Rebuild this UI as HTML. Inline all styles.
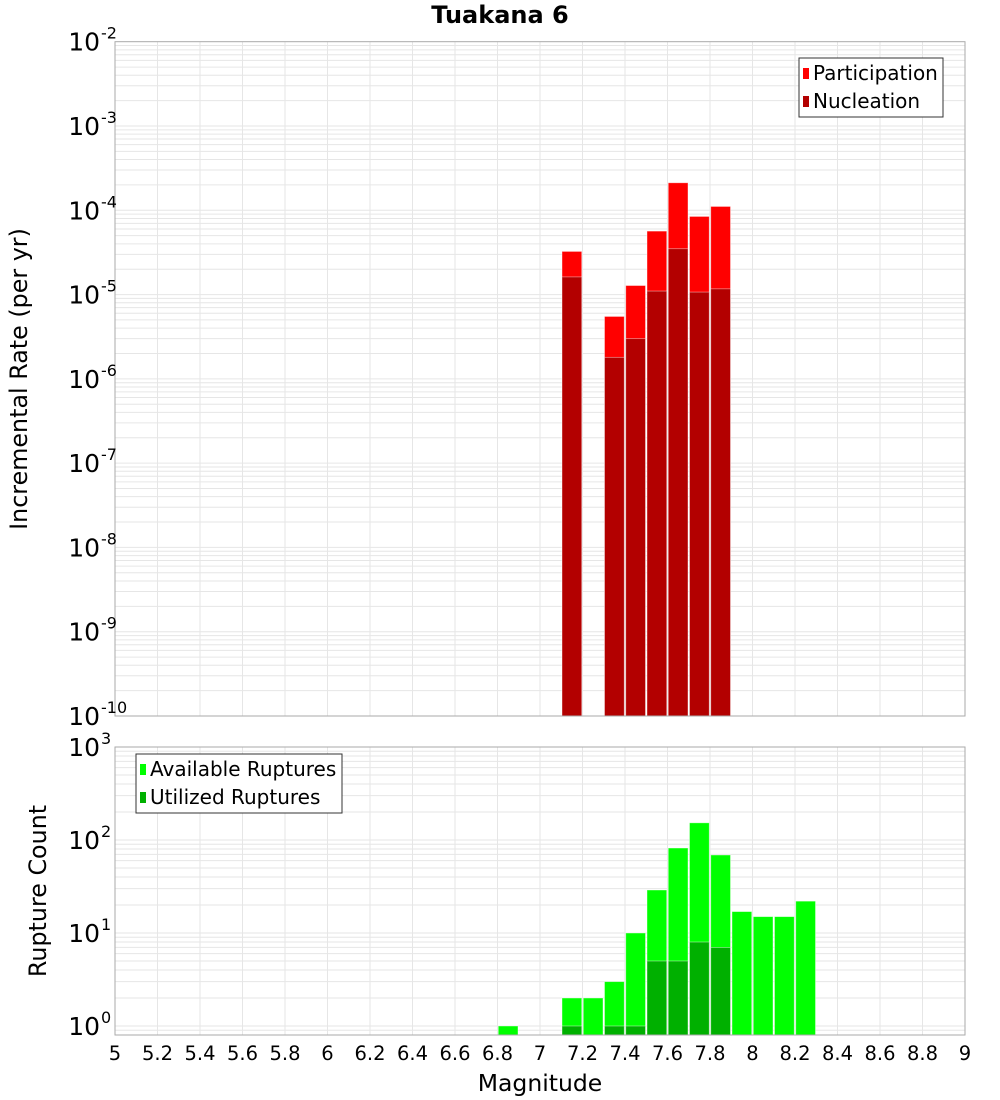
<!DOCTYPE html>
<html><head><meta charset="utf-8">
<style>
html,body{margin:0;padding:0;background:#fff;}
svg{display:block;font-family:"Liberation Sans","DejaVu Sans",sans-serif;}
</style></head>
<body>
<svg id="chart" width="1000" height="1100" viewBox="0 0 1000 1100" xmlns="http://www.w3.org/2000/svg">
<text x="500" y="23" text-anchor="middle" font-size="24" font-weight="bold" font-family="DejaVu Sans, sans-serif">Tuakana 6</text>
<g id="top"></g>
<g id="bot"></g>
<text x="540" y="1091" text-anchor="middle" font-size="23.5" font-family="DejaVu Sans, sans-serif">Magnitude</text>
<text transform="translate(27,379) rotate(-90)" text-anchor="middle" font-size="23.8" font-family="DejaVu Sans, sans-serif">Incremental Rate (per yr)</text>
<text transform="translate(46,891) rotate(-90)" text-anchor="middle" font-size="23.8" font-family="DejaVu Sans, sans-serif">Rupture Count</text>
</svg>
<script>
const rateMags = [7.15, 7.35, 7.45, 7.55, 7.65, 7.75, 7.85];
const participation = [3.25e-5, 5.5e-6, 1.28e-5, 5.66e-5, 2.12e-4, 8.45e-5, 1.11e-4];
const nucleation = [1.62e-5, 1.8e-6, 3.0e-6, 1.10e-5, 3.5e-5, 1.07e-5, 1.17e-5];
const countMags = [6.85, 7.15, 7.25, 7.35, 7.45, 7.55, 7.65, 7.75, 7.85, 7.95, 8.05, 8.15, 8.25];
const available = [1, 2, 2, 3, 10, 29, 82, 153, 69, 17, 15, 15, 22];
const utilized = [0, 1, 0, 1, 1, 5, 5, 8, 7, 0, 0, 0, 0];
const xTicks = [5,5.2,5.4,5.6,5.8,6,6.2,6.4,6.6,6.8,7,7.2,7.4,7.6,7.8,8,8.2,8.4,8.6,8.8,9];
const topDecades = [-2,-3,-4,-5,-6,-7,-8,-9,-10];
const botDecades = [3,2,1,0];

const NS = "http://www.w3.org/2000/svg";
const X0 = 115, X1 = 965;
const xs = m => X0 + (m - 5) / 4 * (X1 - X0);
const T = {top: 41.7, bot: 716, dTop: -2, dBot: -10};
const tY = v => T.top + (T.dTop - Math.log10(v)) / (T.dTop - T.dBot) * (T.bot - T.top);
const B = {top: 747, dTop: 3, per: 93, bot: 1035};
const bY = v => B.top + (B.dTop - Math.log10(v)) * B.per;
function mk(parent, tag, attrs) { const e = document.createElementNS(NS, tag); for (const k in attrs) e.setAttribute(k, attrs[k]); parent.appendChild(e); return e; }

function grid(g, top, bot, decFrom, decTo, yf) {
  for (const t of xTicks) { const l = mk(g, 'line', {x1: xs(t), x2: xs(t), y1: top, y2: bot, stroke: '#e6e6e6', 'stroke-width': 1});
    
     }
  for (let d = decTo - 1; d < decFrom; d++) for (let k = 1; k < 10; k++) {
    const y = yf(k * Math.pow(10, d)); if (y < top - 0.5 || y > bot) continue;
    const l = mk(g, 'line', {x1: X0, x2: X1, y1: y, y2: y, stroke: '#e6e6e6', 'stroke-width': 1});
    
    
  }
}
function bar(g, m, v, yf, base, fill, name) {
  const bw = (xs(5.1) - xs(5));
  const y = yf(v);
  const r = mk(g, 'rect', {x: xs(m) - bw / 2 + 0.75, y: y, width: bw - 1.5, height: base - y, fill: fill, stroke: 'rgba(255,255,255,0.5)', 'stroke-width': 0.8});
  
  
}
function ylabel(g, y, exp, name) {
  const t = mk(g, 'text', {x: 100, y: y + 9, 'text-anchor': 'end', 'font-size': 25, 'font-family': 'DejaVu Sans, sans-serif'});
  t.textContent = '10';
  
  
  const s = mk(g, 'text', {x: 101, y: y - 3, 'text-anchor': 'start', 'font-size': 16, 'font-family': 'DejaVu Sans, sans-serif'});
  s.textContent = String(exp);
  
  
}
function legend(g, x, y, w, items, name) {
  const box = mk(g, 'rect', {x: x, y: y, width: w, height: 59, fill: '#fff', stroke: '#333', 'stroke-width': 1});
  
  
  items.forEach((it, i) => {
    const sw = mk(g, 'rect', {x: x + 4, y: y + 10 + i * 28, width: 6, height: 11, fill: it[1]});
    
    
    const t = mk(g, 'text', {x: x + 14, y: y + 22 + i * 28, 'font-size': 20, 'font-family': 'DejaVu Sans, sans-serif'});
    t.textContent = it[0];
    
    
  });
}

// TOP
const gt = document.getElementById('top');
grid(gt, T.top, T.bot, -2, -10, tY);
rateMags.forEach((m, i) => bar(gt, m, participation[i], tY, T.bot, '#ff0000', 'participation-bar'));
rateMags.forEach((m, i) => bar(gt, m, nucleation[i], tY, T.bot, '#b30000', 'nucleation-bar'));
const bt = mk(gt, 'rect', {x: X0, y: T.top, width: X1 - X0, height: T.bot - T.top, fill: 'none', stroke: '#aaa', 'stroke-width': 1});


topDecades.forEach(d => ylabel(gt, tY(Math.pow(10, d)), d, 'top-y-tick-label'));
legend(gt, 799, 58, 144, [['Participation', '#ff0000'], ['Nucleation', '#b30000']], 'top-legend');

// BOTTOM
const gb = document.getElementById('bot');
grid(gb, B.top, B.bot, 3, 0, bY);
countMags.forEach((m, i) => { if (available[i] > 0) bar(gb, m, available[i], bY, B.bot, '#00ff00', 'available-bar'); });
countMags.forEach((m, i) => { if (utilized[i] > 0) bar(gb, m, utilized[i], bY, B.bot, '#00b000', 'utilized-bar'); });
const bb = mk(gb, 'rect', {x: X0, y: B.top, width: X1 - X0, height: B.bot - B.top, fill: 'none', stroke: '#aaa', 'stroke-width': 1});


botDecades.forEach(d => ylabel(gb, bY(Math.pow(10, d)), d, 'bottom-y-tick-label'));
legend(gb, 136, 754, 206, [['Available Ruptures', '#00ff00'], ['Utilized Ruptures', '#00b000']], 'bottom-legend');
xTicks.forEach(t => {
  const tx = mk(gb, 'text', {x: xs(t), y: 1060, 'text-anchor': 'middle', 'font-size': 19.5, 'font-family': 'DejaVu Sans, sans-serif'});
  tx.textContent = String(t);
  
  
});
</script>
</body></html>
